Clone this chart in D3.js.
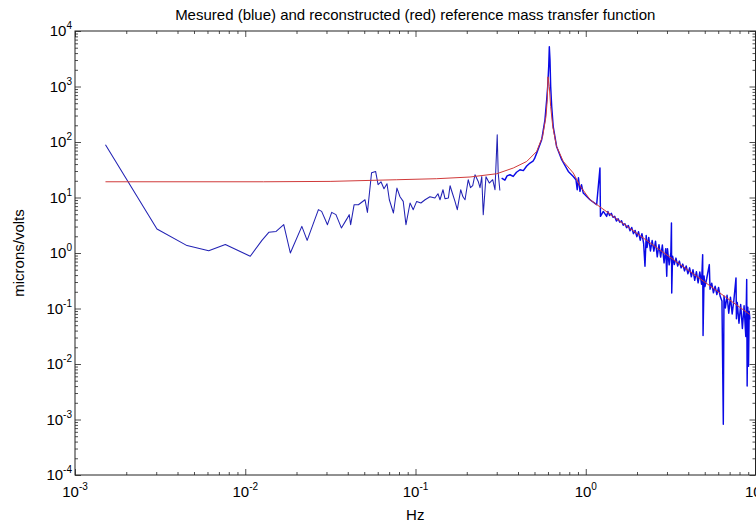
<!DOCTYPE html>
<html>
<head>
<meta charset="utf-8">
<script src="https://cdn.jsdelivr.net/npm/d3@7"></script>
<style>
  body { margin: 0; background: #fff; }
  svg { display: block; }
  text { font-family: "Liberation Sans", Arial, sans-serif; fill: #000; }
</style>
</head>
<body>
<div id="chart"></div>
<script>
// measured response (blue)
var blueFreq = [
  0.00151, 0.00303, 0.00455, 0.0061, 0.00764, 0.0107, 0.01253, 0.01375, 0.01518, 0.01683,
  0.0184, 0.0215, 0.0231, 0.0269, 0.0281, 0.0304, 0.0322, 0.0341, 0.0367, 0.0396,
  0.0408, 0.0416, 0.0436, 0.0462, 0.0505, 0.0522, 0.0552, 0.0583, 0.0603, 0.0627,
  0.0653, 0.068, 0.0702, 0.0742, 0.0778, 0.0811, 0.0847, 0.0879, 0.0929, 0.097,
  0.1016, 0.1076, 0.1138, 0.1216, 0.130, 0.1355, 0.1393, 0.145, 0.149, 0.156,
  0.1596, 0.1637, 0.1706, 0.176, 0.1843, 0.190, 0.1954, 0.204, 0.2104, 0.2168,
  0.2236, 0.234, 0.2393, 0.245, 0.250, 0.2594, 0.2713, 0.284, 0.293, 0.302,
  0.306, 0.313, 0.3206, 0.335, 0.345, 0.359, 0.375, 0.392, 0.411, 0.43,
  0.45, 0.4705, 0.49, 0.50, 0.515, 0.551, 0.576, 0.5896, 0.5977, 0.6059,
  0.611, 0.6166, 0.6223, 0.631, 0.644, 0.674, 0.7225, 0.790, 0.845, 0.876,
  0.891, 0.906, 0.925, 0.944, 0.967, 1.059, 1.159, 1.212, 1.22, 1.268,
  1.327, 1.349, 1.380, 1.413, 1.445, 1.479, 1.514, 1.549, 1.585, 1.622,
  1.660, 1.698, 1.738, 1.778, 1.820, 1.862, 1.905, 1.950, 1.995, 2.042,
  2.089, 2.138, 2.188, 2.228, 2.265, 2.291, 2.344, 2.399, 2.455, 2.512,
  2.570, 2.630, 2.692, 2.754, 2.818, 2.884, 2.951, 2.99, 3.020, 3.090,
  3.162, 3.187, 3.199, 3.236, 3.311, 3.388, 3.467, 3.548, 3.631, 3.715,
  3.802, 3.890, 3.981, 4.074, 4.169, 4.266, 4.365, 4.467, 4.571, 4.677,
  4.786, 4.861, 4.887, 4.955, 5.012, 5.129, 5.318, 5.370, 5.495, 5.623,
  5.754, 5.888, 6.026, 6.166, 6.310, 6.427, 6.486, 6.607, 6.761, 6.918,
  7.079, 7.244, 7.413, 7.63, 7.674, 7.762, 7.943, 8.128, 8.318, 8.511,
  8.710, 8.818, 8.872, 8.954, 9.036, 9.12, 9.204
];
var blueMag = [
  89, 2.71, 1.36, 1.10, 1.42, 0.873, 1.69, 2.36, 2.45, 3.24,
  1.0, 3.02, 1.69, 6.04, 5.62, 3.24, 5.4, 4.91, 2.83, 4.16,
  4.91, 3.24, 7.43, 7.4, 9.12, 5.4, 27.9, 29.5, 17.0, 19.2,
  14.4, 17.7, 9.1, 5.26, 14.8, 10.3, 8.5, 3.24, 7.96, 6.04,
  8.5, 7.96, 9.1, 10.3, 9.8, 11.7, 9.1, 13.8, 9.5, 9.8,
  16.3, 12.7, 8.5, 6.04, 13.8, 10.3, 9.1, 20.9, 15.0, 16.3,
  25.7, 19.2, 15.0, 23.9, 4.91, 23.7, 18.2, 20.9, 13.8, 135,
  27.6, 13.4, 22.4, 20.5, 24.5, 25.7, 24.0, 28.5, 31.6, 30.5,
  37, 41.8, 45, 50, 63, 110, 251, 574, 996, 2280,
  5220, 3010, 996, 435, 190, 83, 47.9, 29.5, 23.9, 20.9,
  13.8, 22.7, 12.9, 17.0, 12.0, 9.1, 7.43, 34, 4.57, 5.62,
  4.57, 5.60, 4.74, 5.18, 4.39, 4.57, 3.78, 4.13, 3.58, 3.82,
  3.16, 3.37, 2.86, 3.12, 2.52, 2.88, 2.23, 2.55, 1.97, 2.41,
  1.70, 2.23, 1.47, 0.577, 2.06, 1.26, 1.91, 1.09, 1.68, 1.08,
  1.63, 0.851, 1.41, 0.843, 1.39, 0.664, 1.20, 0.381, 1.20, 0.611,
  1.03, 3.47, 0.191, 0.875, 0.617, 0.809, 0.583, 0.715, 0.540, 0.631,
  0.476, 0.583, 0.421, 0.540, 0.372, 0.499, 0.321, 0.461, 0.290, 0.457,
  0.274, 0.935, 0.0327, 0.385, 0.248, 0.340, 0.618, 0.223, 0.286, 0.192,
  0.252, 0.178, 0.239, 0.164, 0.136, 0.00082, 0.169, 0.102, 0.173, 0.0824,
  0.160, 0.0798, 0.141, 0.356, 0.0656, 0.128, 0.0542, 0.118, 0.0437, 0.112,
  0.0313, 0.333, 0.0040, 0.105, 0.0091, 0.0895, 0.0634
];

// reconstructed response (red)
var redFreq = [
  0.00151, 0.0128, 0.0315, 0.0776, 0.1331, 0.209, 0.300, 0.3754, 0.450, 0.515,
  0.558, 0.584, 0.594, 0.600, 0.611, 0.6223, 0.640, 0.674, 0.738, 0.845,
  0.925, 1.06, 1.5, 2.0, 3.0, 4.0, 6.0, 9.2
];
var redMag = [
  19.2, 19.2, 19.5, 20.9, 21.8, 23.4, 26.8, 34.0, 44.6, 67.5,
  126, 288, 574, 1490, 995, 435, 190, 83, 44.6, 27.6,
  16.3, 9.1, 4.24, 2.25, 0.92, 0.49, 0.20, 0.078
];

var xTickExp = [-3, -2, -1, 0, 1];
var yTickExp = [-4, -3, -2, -1, 0, 1, 2, 3, 4];

var W = 756, H = 526;
var padL = 75, padR = 755.5, padT = 31, padB = 475;

var svg = d3.select("#chart").append("svg")
    .attr("width", W)
    .attr("height", H);

var x = d3.scaleLog().domain([1e-3, 10]).range([padL, 756]);
var y = d3.scaleLog().domain([1e-4, 1e4]).range([padB, padT]);

function minors(exps) {
    var out = [];
    exps.slice(0, -1).forEach(function(e) {
        for (var m = 2; m <= 9; m++) out.push(m * Math.pow(10, e));
    });
    return out;
}
var xMajor = xTickExp.map(function(e) { return Math.pow(10, e); });
var yMajor = yTickExp.map(function(e) { return Math.pow(10, e); });

svg.append("clipPath").attr("id", "plot")
  .append("rect")
    .attr("x", padL).attr("y", padT)
    .attr("width", padR - padL).attr("height", padB - padT);

var line = d3.line()
    .x(function(d) { return x(d[0]); })
    .y(function(d) { return y(d[1]); });

var plot = svg.append("g").attr("clip-path", "url(#plot)");

// the sparse low-frequency part is drawn thin, the dense part heavier
var blue = d3.zip(blueFreq, blueMag);
var split = 0.32;
plot.append("path")
    .datum(blue.filter(function(d) { return d[0] <= split; }))
    .attr("d", line)
    .style("fill", "none")
    .style("stroke", "#2222b4")
    .style("stroke-width", 1.05)
    .style("stroke-linejoin", "round");

plot.append("path")
    .datum(blue.filter(function(d) { return d[0] >= 0.3206; }))
    .attr("d", line)
    .style("fill", "none")
    .style("stroke", "#0a0ae6")
    .style("stroke-width", 1.45)
    .style("stroke-linejoin", "round");

plot.append("path")
    .datum(d3.zip(redFreq, redMag))
    .attr("d", line)
    .style("fill", "none")
    .style("stroke", "#d03a3a")
    .style("stroke-width", 1);

// axes: ticks point inward, box on all sides
function drawAxis(axisFn, scale, vals, size, tx, ty) {
    var g = svg.append("g")
        .attr("transform", "translate(" + tx + "," + ty + ")")
        .call(axisFn(scale).tickValues(vals).tickSize(-size).tickFormat(""));
    g.select(".domain").remove();
    g.selectAll("line").attr("stroke", "#222").attr("stroke-width", 0.8);
}
drawAxis(d3.axisBottom, x, xMajor, 6, 0, padB);
drawAxis(d3.axisBottom, x, minors(xTickExp), 3, 0, padB);
drawAxis(d3.axisTop, x, xMajor, 6, 0, padT);
drawAxis(d3.axisTop, x, minors(xTickExp), 3, 0, padT);
drawAxis(d3.axisLeft, y, yMajor, 6, padL, 0);
drawAxis(d3.axisLeft, y, minors(yTickExp), 3, padL, 0);
drawAxis(d3.axisRight, y, yMajor, 6, padR, 0);
drawAxis(d3.axisRight, y, minors(yTickExp), 3, padR, 0);

svg.append("rect")
    .attr("x", padL).attr("y", padT)
    .attr("width", padR - padL).attr("height", padB - padT)
    .style("fill", "none")
    .style("stroke", "#222")
    .style("stroke-width", 1);

// tick labels, 10 with superscript exponent
xTickExp.forEach(function(e) {
    var t = svg.append("text")
        .attr("x", x(Math.pow(10, e)))
        .attr("y", padB + 22)
        .attr("text-anchor", "middle")
        .style("font-size", "15px");
    t.append("tspan").text("10");
    t.append("tspan").attr("dy", -7).style("font-size", "10px").text(e);
});
yTickExp.forEach(function(e) {
    var t = svg.append("text")
        .attr("x", padL - 3)
        .attr("y", y(Math.pow(10, e)) + 5)
        .attr("text-anchor", "end")
        .style("font-size", "15px");
    t.append("tspan").text("10");
    t.append("tspan").attr("dy", -7).style("font-size", "10px").text(e);
});

svg.append("text")
    .attr("x", (padL + padR) / 2)
    .attr("y", 20)
    .attr("text-anchor", "middle")
    .style("font-size", "15px")
    .text("Mesured (blue) and reconstructed (red) reference mass transfer function");

svg.append("text")
    .attr("x", (padL + padR) / 2)
    .attr("y", 520)
    .attr("text-anchor", "middle")
    .style("font-size", "15px")
    .text("Hz");

svg.append("text")
    .attr("transform", "translate(24," + (padT + padB) / 2 + ") rotate(-90)")
    .attr("text-anchor", "middle")
    .style("font-size", "15px")
    .text("microns/volts");
</script>
</body>
</html>
